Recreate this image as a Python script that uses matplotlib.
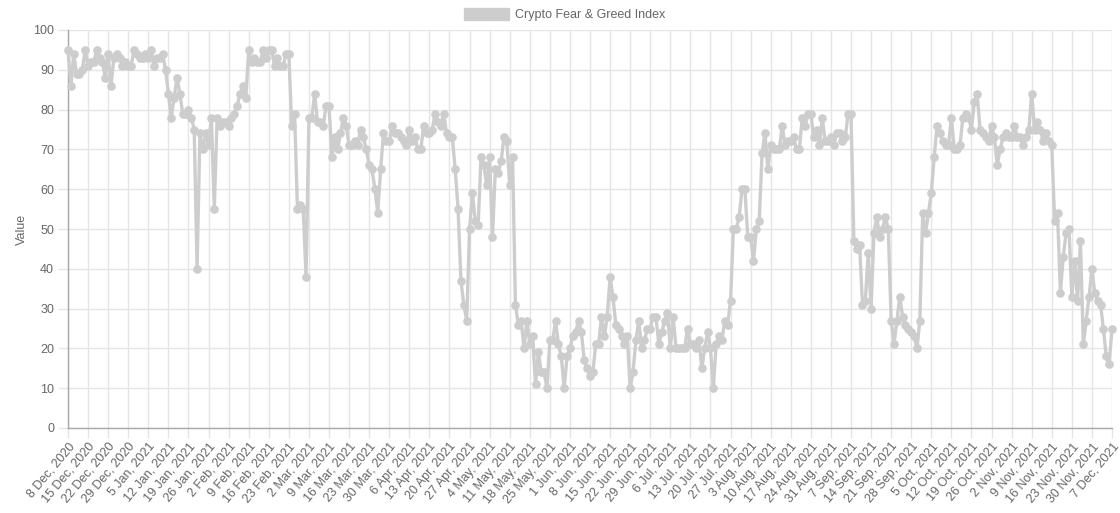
import matplotlib
matplotlib.use('Agg')
import matplotlib.pyplot as plt
from matplotlib.patches import Patch
import numpy as np
import pandas as pd

# 每日数值（按月分组），起始日期 2020-12-08
start_date = '2020-12-08'
dec_2020 = [95, 86, 94, 89, 89, 90, 95, 91, 92, 92, 95, 93, 92, 88, 94, 86, 93, 94, 93, 91, 92, 91, 91, 95]
jan_2021 = [94, 93, 93, 94, 93, 95, 91, 93, 93, 94, 90, 84, 78, 83, 88, 84, 79, 79, 80, 78,
            75, 40, 74, 70, 74, 71, 78, 55, 78, 76, 77]
feb_2021 = [77, 76, 78, 79, 81, 84, 86, 83, 95, 92, 93, 92, 92, 95, 93, 95, 95, 91, 93, 91,
            91, 94, 94, 76, 79, 55, 56, 55]
mar_2021 = [38, 78, 78, 84, 77, 77, 76, 81, 81, 68, 73, 70, 74, 78, 76, 71, 71, 72, 71, 75,
            73, 70, 66, 65, 60, 54, 65, 74, 72, 72, 76]
apr_2021 = [74, 74, 73, 72, 71, 75, 72, 73, 70, 70, 76, 74, 74, 75, 79, 77, 76, 79, 74, 73,
            73, 65, 55, 37, 31, 27, 50, 59, 52, 51]
may_2021 = [68, 66, 61, 68, 48, 65, 64, 67, 73, 72, 61, 68, 31, 26, 27, 20, 27, 21, 23, 11,
            19, 14, 14, 10, 22, 22, 27, 21, 18, 10, 18]
jun_2021 = [20, 23, 24, 27, 24, 17, 15, 13, 14, 21, 21, 28, 23, 28, 38, 33, 26, 25, 23, 21,
            23, 10, 14, 22, 27, 20, 22, 25, 25, 28]
jul_2021 = [28, 21, 24, 27, 29, 20, 28, 20, 20, 20, 20, 25, 21, 21, 20, 22, 15, 20, 24, 20,
            10, 21, 23, 22, 27, 26, 32, 50, 50, 53, 60]
aug_2021 = [60, 48, 48, 42, 50, 52, 69, 74, 65, 71, 70, 70, 70, 76, 71, 72, 72, 73, 70, 70,
            78, 76, 79, 79, 73, 75, 71, 78, 72, 72, 73]
sep_2021 = [71, 74, 74, 72, 73, 79, 79, 47, 45, 46, 31, 32, 44, 30, 49, 53, 48, 50, 53, 50,
            27, 21, 27, 33, 28, 26, 25, 24, 23, 20]
oct_2021 = [27, 54, 49, 54, 59, 68, 76, 74, 72, 71, 71, 78, 70, 70, 71, 78, 79, 78, 75, 82,
            84, 75, 74, 73, 72, 76, 73, 66, 70, 73, 74]
nov_2021 = [73, 73, 76, 73, 73, 71, 73, 75, 84, 75, 77, 75, 72, 74, 72, 71, 52, 54, 34, 43,
            49, 50, 33, 42, 32, 47, 21, 27, 33, 40]
dec_2021 = [34, 32, 31, 25, 18, 16, 25]

series_label = 'Crypto Fear & Greed Index'
y_label = 'Value'

values = np.array(dec_2020 + jan_2021 + feb_2021 + mar_2021 + apr_2021 + may_2021 + jun_2021
                  + jul_2021 + aug_2021 + sep_2021 + oct_2021 + nov_2021 + dec_2021)
dates = pd.date_range(start_date, periods=len(values), freq='D')
days = np.arange(len(values))

plt.rcParams['font.family'] = ['Liberation Sans', 'DejaVu Sans']

line_color = '#cdcdcd'
grid_color = '#e5e5e5'
text_color = '#666666'

fig = plt.figure(figsize=(11.2, 5.13), dpi=100)
ax = fig.add_axes([68 / 1120, 1 - 428 / 513, (1112 - 68) / 1120, (428 - 30) / 513])

ax.plot(days, values, color=line_color, linewidth=2.4, marker='o', markersize=5.2,
        markerfacecolor=line_color, markeredgecolor=line_color, zorder=3, clip_on=False)

ax.set_xlim(0, len(values) - 1)
ax.set_ylim(0, 100)
ax.set_yticks(np.arange(0, 101, 10))

tick_idx = days[::7]
ax.set_xticks(tick_idx)
ax.set_xticklabels([f'{d.day} {d.strftime("%b")}, {d.year}' for d in dates[tick_idx]],
                   rotation=50, ha='right', rotation_mode='anchor')

ax.grid(True, color=grid_color, linewidth=1)
ax.set_axisbelow(True)
for side in ['top', 'right']:
    ax.spines[side].set_visible(False)
for side in ['left', 'bottom']:
    ax.spines[side].set_color('#a8a8a8')
    ax.spines[side].set_linewidth(1)

ax.tick_params(axis='both', colors=grid_color, labelcolor=text_color, labelsize=9,
               length=7, width=1)
ax.tick_params(axis='x', pad=2)
ax.tick_params(axis='y', pad=3)

ax.set_ylabel(y_label, color=text_color, fontsize=9, labelpad=3.5)

handle = Patch(facecolor=line_color, edgecolor=line_color)
fig.legend([handle], [series_label], loc='center', bbox_to_anchor=(0.504, 0.972),
           frameon=False, fontsize=9, handlelength=3.6, handleheight=1.1,
           handletextpad=0.5, labelcolor=text_color)

fig.savefig('out.png', dpi=100)
plt.close(fig)
